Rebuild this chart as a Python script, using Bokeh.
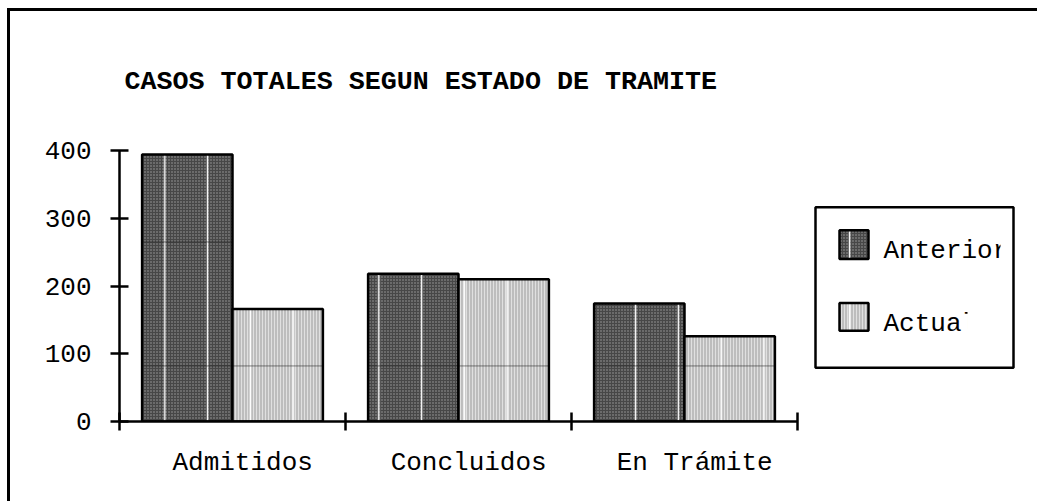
import numpy as np
from bokeh.plotting import figure
from bokeh.models import Range1d, FixedTicker, LinearAxis
from bokeh.core.properties import value
from bokeh.embed import file_html
from bokeh.resources import INLINE

# ---- data ----
categories = ["Admitidos", "Concluidos", "En Trámite"]
series_names = ["Anterior", "Actual"]
anterior = [394, 218, 174]
actual = [166, 210, 126]
y_ticks = [0, 100, 200, 300, 400]
title_text = "CASOS TOTALES SEGUN ESTADO DE TRAMITE"

# ---- layout constants ----
OX, OY = 14, 11                      # canvas origin on the page
W, H = 1038 - OX, 501 - OY
PAGE_FL, PAGE_FR, PAGE_FT, PAGE_FB = 119, 1022, 149, 421   # frame edges on page
FL = PAGE_FL - OX
FR = W - (PAGE_FR - OX)
FT = PAGE_FT - OY
FB = H - (PAGE_FB - OY)
frame_w = PAGE_FR - PAGE_FL
frame_h = PAGE_FB - PAGE_FT
cat_px = 226.0
n = len(categories)
x_end = frame_w / cat_px
y_max = 400.0
FONT = "Liberation Mono"
SEAM_LEVELS = [82, 265]   # faint print seams crossing the bars in the original

# page-pixel -> data helpers (legend decoration only)
def px_x(px):
    return (px - PAGE_FL) / cat_px
def px_y(py):
    return (PAGE_FB - py) * y_max / frame_h

p = figure(width=W, height=H, output_backend="svg", toolbar_location=None,
           x_range=Range1d(0, x_end), y_range=Range1d(0, y_max),
           min_border_left=FL, min_border_right=FR, min_border_top=FT, min_border_bottom=FB,
           x_axis_type=None, y_axis_type=None, title=title_text)
p.outline_line_color = None
p.background_fill_color = "white"
p.border_fill_color = "white"
# page frame: thick rule along the left and top edges only
p.styles = {"margin-left": f"{OX}px", "margin-top": f"{OY}px",
            "box-shadow": "-4px 0 0 0 white, -4px 0 0 3px black"}

p.title.text_font = FONT
p.title.text_font_size = "26.7px"
p.title.text_font_style = "bold"
p.title.text_color = "black"
p.title.align = "left"
p.title.offset = 5
p.title.standoff = 107

dark = dict(fill_color="#474747", hatch_pattern="dot", hatch_color="#a0a0a0",
            hatch_scale=3, hatch_weight=1)
light = dict(fill_color="#bdbdbd", hatch_pattern="vertical_line", hatch_color="#e0e0e0",
             hatch_scale=3, hatch_weight=1)
streak = dict(fill_alpha=0, line_color=None, hatch_pattern="vertical_line",
              hatch_color="white", hatch_scale=42.8, hatch_weight=1.5)
outline = dict(fill_color=None, line_color="black", line_width=2.5)

x = np.arange(n)
for offs, vals, sty in [(0.3, anterior, dark), (0.7, actual, light)]:
    p.vbar(x=x + offs, top=vals, width=0.4, line_color=None, **sty)
    p.vbar(x=x + offs, top=vals, width=0.4, **streak)
    xs0, xs1, ys = [], [], []
    for xi, v in zip(x + offs, vals):
        for lev in SEAM_LEVELS:
            if v > lev:
                xs0.append(xi - 0.2); xs1.append(xi + 0.2); ys.append(lev)
    p.segment(x0=xs0, x1=xs1, y0=ys, y1=ys, line_color="#1e1e1e", line_width=1, line_alpha=0.55)
    p.vbar(x=x + offs, top=vals, width=0.4, **outline)

# ---- axes ----
ya = LinearAxis(ticker=FixedTicker(ticks=y_ticks, minor_ticks=[]))
ya.major_tick_in = 9
ya.major_tick_out = 9
ya.major_tick_line_width = 2.5
ya.axis_line_width = 2.5
ya.major_label_text_font = FONT
ya.major_label_text_font_size = "26px"
ya.major_label_text_color = "black"
ya.major_label_standoff = 19
p.add_layout(ya, "left")

label_pos = [i + 0.545 for i in range(n)]
xa = LinearAxis(bounds=(0, n), ticker=FixedTicker(ticks=label_pos, minor_ticks=list(range(n + 1))))
xa.major_label_overrides = {pos: c for pos, c in zip(label_pos, categories)}
xa.major_tick_in = 0
xa.major_tick_out = 0
xa.minor_tick_in = 9
xa.minor_tick_out = 9
xa.minor_tick_line_width = 2.5
xa.minor_tick_line_color = "black"
xa.axis_line_width = 2.5
xa.major_label_text_font = FONT
xa.major_label_text_font_size = "26px"
xa.major_label_text_color = "black"
xa.major_label_standoff = 17
p.add_layout(xa, "below")

# ---- legend (drawn by hand; labels cut short as in the original) ----
LB_L, LB_R, LB_T, LB_B = 815, 1013, 206, 367
p.quad(left=[px_x(LB_L)], right=[px_x(LB_R)], top=[px_y(LB_T)], bottom=[px_y(LB_B)],
       fill_color="white", line_color=None)
sw_l, sw_r = px_x(839), px_x(868)
rows = [(229, 258, 250, 1000, dark), (302, 330, 323, 967, light)]
for t, b, base, cut, sty in rows:
    p.quad(left=[sw_l], right=[sw_r], top=[px_y(t)], bottom=[px_y(b)], line_color=None, **sty)
    p.quad(left=[sw_l], right=[sw_r], top=[px_y(t)], bottom=[px_y(b)], **streak)
    p.quad(left=[sw_l], right=[sw_r], top=[px_y(t)], bottom=[px_y(b)], **outline)
p.text(x=[px_x(883)] * 2, y=[px_y(r[2]) for r in rows], text=series_names,
       text_font=value(FONT), text_font_size="26px", text_baseline="alphabetic",
       text_align="left", text_color="black")
for t, b, base, cut, sty in rows:
    p.quad(left=[px_x(cut)], right=[px_x(LB_R)], top=[px_y(base - 26)], bottom=[px_y(base + 9)],
           fill_color="white", line_color=None)
p.quad(left=[px_x(LB_L)], right=[px_x(LB_R)], top=[px_y(LB_T)], bottom=[px_y(LB_B)],
       fill_color=None, line_color="black", line_width=2.5)

open("out.html", "w").write(file_html(p, INLINE))
